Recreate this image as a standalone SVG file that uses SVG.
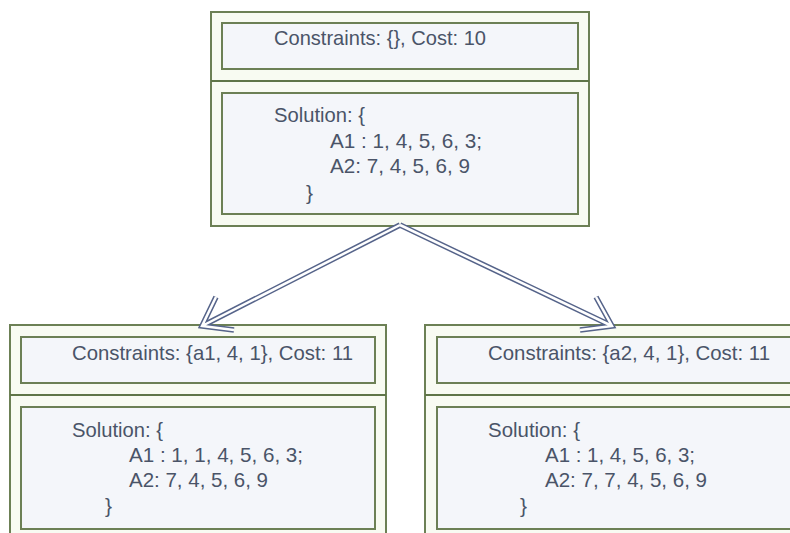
<svg xmlns="http://www.w3.org/2000/svg" width="790" height="533" viewBox="0 0 790 533">
  <style>
    .outer { fill: #f8fbf2; stroke: #6c8055; stroke-width: 2; }
    .inner { fill: #f4f6fa; stroke: #6c8055; stroke-width: 2; }
    .div { stroke: #5f7548; stroke-width: 2; }
    .t { font-family: "Liberation Sans", Arial, sans-serif; font-size: 21px; fill: #4a5468; }
    .edge-o { fill: none; stroke: #56648a; stroke-width: 5.5; stroke-linejoin: miter; }
    .edge-i { fill: none; stroke: #ffffff; stroke-width: 2.5; stroke-linejoin: miter; }
  </style>
  <rect width="790" height="533" fill="#ffffff"/>

  <!-- root node -->
  <g id="root">
    <rect class="outer" x="211" y="12" width="378" height="214"/>
    <line class="div" x1="211" y1="81" x2="589" y2="81"/>
    <rect class="inner" x="222" y="23" width="356" height="46"/>
    <rect class="inner" x="222" y="93" width="356" height="121"/>
    <text class="t" x="274" y="45" textLength="212" lengthAdjust="spacingAndGlyphs">Constraints: {}, Cost: 10</text>
    <text class="t" x="274" y="122" textLength="91" lengthAdjust="spacingAndGlyphs">Solution: {</text>
    <text class="t" x="330" y="148" textLength="152" lengthAdjust="spacingAndGlyphs">A1 : 1, 4, 5, 6, 3;</text>
    <text class="t" x="330" y="173" textLength="140" lengthAdjust="spacingAndGlyphs">A2: 7, 4, 5, 6, 9</text>
    <text class="t" x="306" y="200">}</text>
  </g>

  <!-- left child -->
  <g id="child-a1">
    <rect class="outer" x="10" y="325" width="376" height="220"/>
    <line class="div" x1="10" y1="395" x2="386" y2="395"/>
    <rect class="inner" x="21" y="337" width="354" height="46"/>
    <rect class="inner" x="21" y="407" width="354" height="122"/>
    <text class="t" x="72" y="360" textLength="281" lengthAdjust="spacingAndGlyphs">Constraints: {a1, 4, 1}, Cost: 11</text>
    <text class="t" x="72" y="437" textLength="91" lengthAdjust="spacingAndGlyphs">Solution: {</text>
    <text class="t" x="129" y="462" textLength="174" lengthAdjust="spacingAndGlyphs">A1 : 1, 1, 4, 5, 6, 3;</text>
    <text class="t" x="129" y="487" textLength="139" lengthAdjust="spacingAndGlyphs">A2: 7, 4, 5, 6, 9</text>
    <text class="t" x="105" y="513">}</text>
  </g>

  <!-- right child -->
  <g id="child-a2">
    <rect class="outer" x="425" y="325" width="380" height="220"/>
    <line class="div" x1="425" y1="395" x2="805" y2="395"/>
    <rect class="inner" x="437" y="337" width="360" height="46"/>
    <rect class="inner" x="437" y="407" width="360" height="122"/>
    <text class="t" x="488" y="360" textLength="282" lengthAdjust="spacingAndGlyphs">Constraints: {a2, 4, 1}, Cost: 11</text>
    <text class="t" x="488" y="437" textLength="92" lengthAdjust="spacingAndGlyphs">Solution: {</text>
    <text class="t" x="545" y="462" textLength="150" lengthAdjust="spacingAndGlyphs">A1 : 1, 4, 5, 6, 3;</text>
    <text class="t" x="545" y="487" textLength="162" lengthAdjust="spacingAndGlyphs">A2: 7, 7, 4, 5, 6, 9</text>
    <text class="t" x="520" y="513">}</text>
  </g>

  <!-- hollow double-line connectors -->
  <g id="edges">
    <path class="edge-o" d="M400,225 L202,326 M216,297 L202,326 L234,330 M400,225 L612,326 M596,297 L612,326 L580,330"/>
    <path class="edge-i" d="M400,225 L202,326 M216,297 L202,326 L234,330 M400,225 L612,326 M596,297 L612,326 L580,330"/>
  </g>
</svg>
